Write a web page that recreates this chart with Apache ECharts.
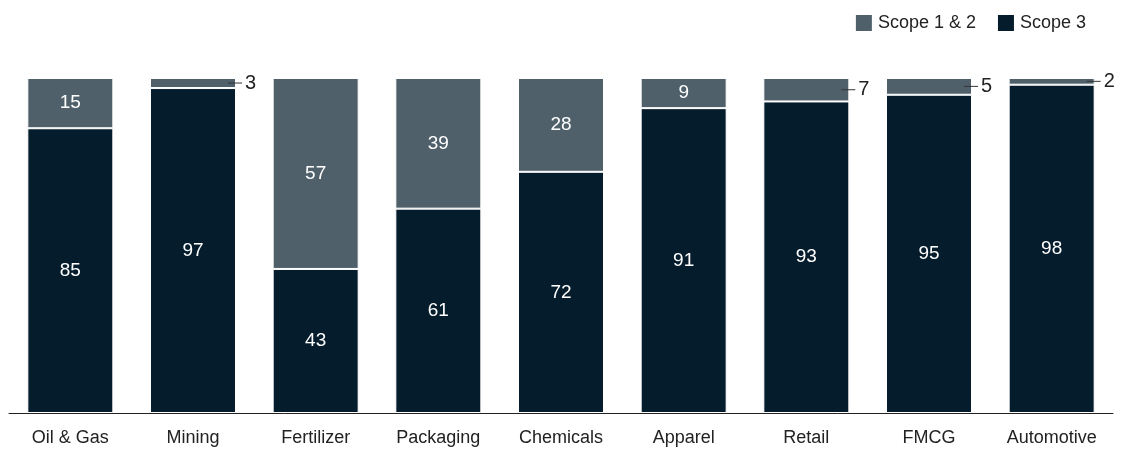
<!DOCTYPE html>
<html>
<head>
<meta charset="utf-8">
<script src="https://cdn.jsdelivr.net/npm/echarts@6/dist/echarts.min.js"></script>
<style>
  html, body { margin: 0; padding: 0; background: #fff; }
  #chart { width: 1124px; height: 449px; }
</style>
</head>
<body>
<div id="chart"></div>
<script>
var categories = ['Oil & Gas', 'Mining', 'Fertilizer', 'Packaging', 'Chemicals', 'Apparel', 'Retail', 'FMCG', 'Automotive'];
var scope3 = [85, 97, 43, 61, 72, 91, 93, 95, 98];
var scope12 = [15, 3, 57, 39, 28, 9, 7, 5, 2];

var FONT = '"Liberation Sans", Arial, sans-serif';
var NAVY = '#051c2c';
var SLATE = '#4f606b';

// small top segments get their label outside with a short leader line
var scope12Data = scope12.map(function (v) {
    if (v < 9) {
        return {
            value: v,
            label: {
                show: true,
                position: 'right',
                distance: -8,
                formatter: '{l|}{t|' + v + '}',
                rich: {
                    l: {width: 14, height: 1, backgroundColor: '#333'},
                    t: {color: '#222', fontSize: 20, fontFamily: FONT, padding: [0, 0, 0, 3]}
                }
            }
        };
    }
    return v;
});

var myChart = echarts.init(document.getElementById('chart'));
var option = {
    animation: false,
    legend: {
        right: 33,
        top: 8,
        itemWidth: 18,
        itemHeight: 18,
        itemGap: 20,
        icon: 'rect',
        textStyle: {color: '#222', fontSize: 18, fontFamily: FONT, padding: [0, 0, 0, 0]},
        data: ['Scope 1 & 2', 'Scope 3']
    },
    grid: {left: 9, right: 11, top: 78, bottom: 36},
    xAxis: {
        type: 'category',
        data: categories,
        axisLine: {lineStyle: {color: '#222', width: 1}},
        axisTick: {show: false},
        axisLabel: {color: '#222', fontSize: 18, fontFamily: FONT, margin: 16}
    },
    yAxis: {
        type: 'value',
        min: 0,
        max: 100,
        show: false,
        splitLine: {show: false}
    },
    series: [
        {
            name: 'Scope 3',
            type: 'bar',
            stack: 'total',
            barWidth: 86,
            itemStyle: {color: NAVY, borderColor: '#fff', borderWidth: 1},
            label: {show: true, position: 'inside', color: '#fff', fontSize: 19, fontFamily: FONT},
            data: scope3
        },
        {
            name: 'Scope 1 & 2',
            type: 'bar',
            stack: 'total',
            barWidth: 86,
            itemStyle: {color: SLATE, borderColor: '#fff', borderWidth: 1},
            label: {show: true, position: 'inside', color: '#fff', fontSize: 19, fontFamily: FONT},
            data: scope12Data
        }
    ]
};
myChart.setOption(option);
</script>
</body>
</html>
